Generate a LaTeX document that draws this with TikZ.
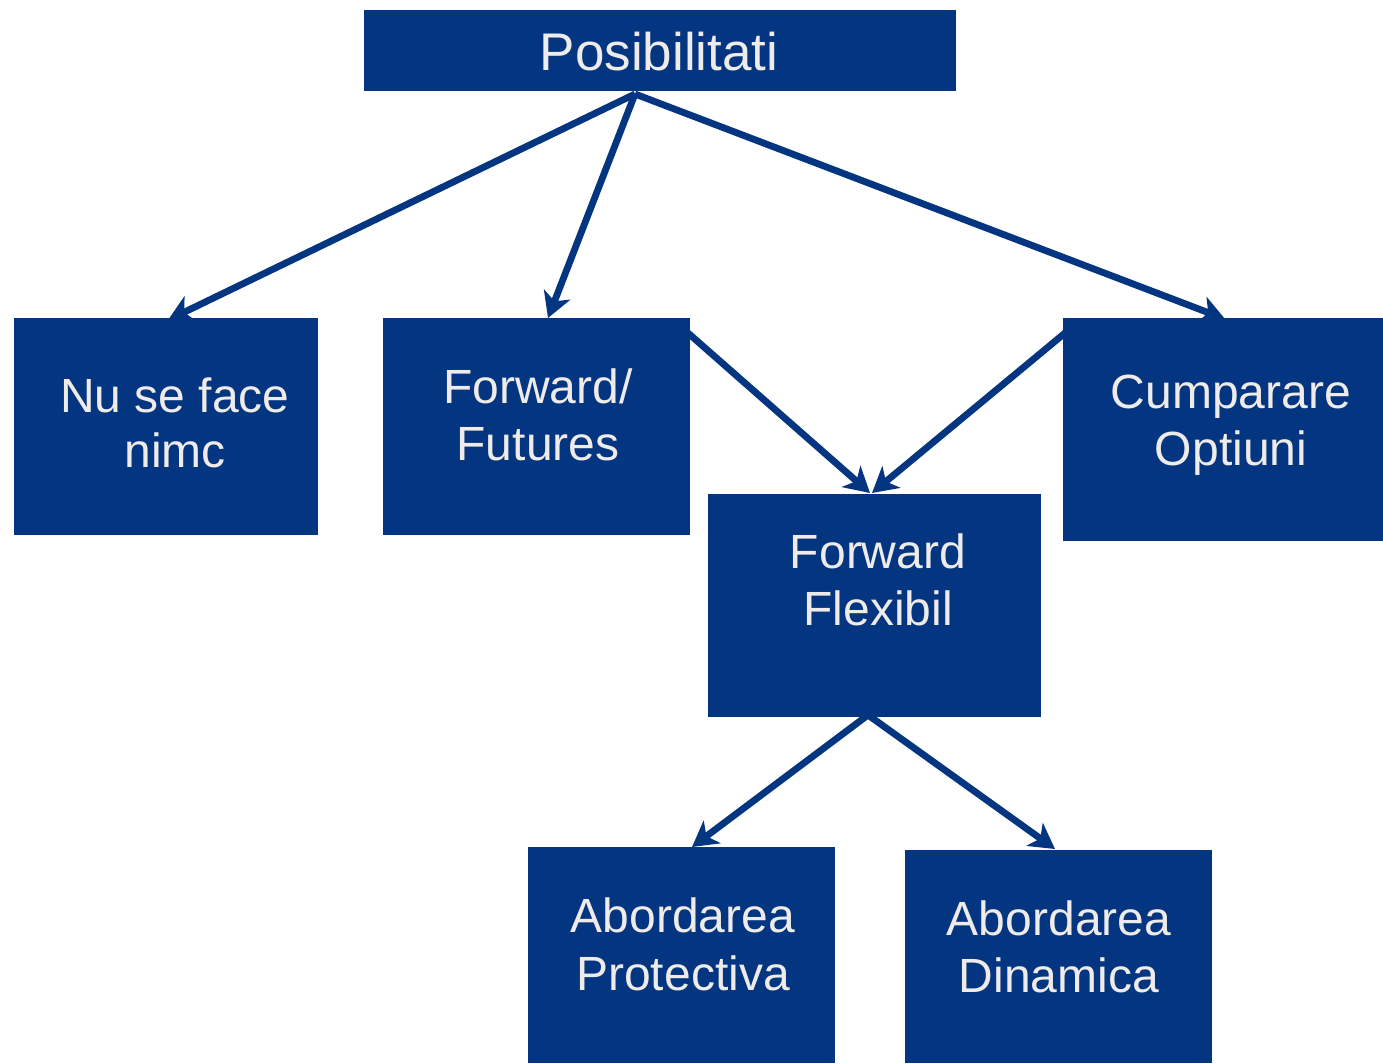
\documentclass[tikz,border=0pt]{standalone}
\usepackage{fontspec}
\setmainfont{Liberation Sans}
\usetikzlibrary{arrows.meta,backgrounds}
\definecolor{boxblue}{RGB}{3,53,128}
\definecolor{txtgray}{RGB}{238,235,232}
\begin{document}
\begin{tikzpicture}[x=1pt,y=-1pt,
  box/.style={fill=boxblue, draw=none, inner sep=0pt, outer sep=0pt},
  lbl/.style={text=txtgray, font=\fontsize{48}{55}\selectfont, anchor=base, inner sep=0pt},
  ttl/.style={text=txtgray, font=\fontsize{53}{60}\selectfont, anchor=base, inner sep=0pt},
  arr/.style={draw=boxblue, line width=6.8pt, -{Stealth[length=25pt,width=28pt,inset=7pt]}}]
\useasboundingbox (0,0) rectangle (1383,1063);
% boxes
\node[box, minimum width=592pt, minimum height=81pt] (p) at (660,50.5) {};
\node[box, minimum width=304pt, minimum height=217pt] (nu) at (166,426.5) {};
\node[box, minimum width=307pt, minimum height=217pt] (ff) at (536.5,426.5) {};
\node[box, minimum width=320pt, minimum height=223pt] (co) at (1223,429.5) {};
\node[box, minimum width=333pt, minimum height=223pt] (fx) at (874.5,605.5) {};
\node[box, minimum width=307pt, minimum height=216pt] (ap) at (681.5,955) {};
\node[box, minimum width=307pt, minimum height=213pt] (ad) at (1058.5,956.5) {};
% labels
\node[ttl] (tp) at (659,70) {Posibilitati};
\node[lbl] (tnu1) at (175,412) {Nu se face};
\node[lbl] (tnu2) at (175,467) {nimc};
\node[lbl] (tff1) at (538,403) {Forward/};
\node[lbl] (tff2) at (538,460) {Futures};
\node[lbl] (tco1) at (1231,408) {Cumparare};
\node[lbl] (tco2) at (1231,465) {Optiuni};
\node[lbl] (tfx1) at (878,568) {Forward};
\node[lbl] (tfx2) at (878,625) {Flexibil};
\node[lbl] (tap1) at (683,932) {Abordarea};
\node[lbl] (tap2) at (683,990) {Protectiva};
\node[lbl] (tad1) at (1059,935) {Abordarea};
\node[lbl] (tad2) at (1059,992) {Dinamica};
% connectors
\begin{pgfonlayer}{background}
\draw[arr] ([xshift=-25pt,yshift=-3pt]p.south) -- ([xshift=2pt,yshift=-2pt]nu.north);
\draw[arr] ([xshift=-25pt,yshift=-3pt]p.south) -- ([xshift=11.5pt]ff.north);
\draw[arr] ([xshift=-25pt,yshift=-3pt]p.south) -- ([xshift=2pt,yshift=-1pt]co.north);
\draw[arr] ([xshift=-2pt,yshift=-15pt]ff.north east) -- ([xshift=-4.5pt,yshift=1pt]fx.north);
\draw[arr] ([xshift=2pt,yshift=-15pt]co.north west) -- ([xshift=-2.5pt,yshift=1pt]fx.north);
\draw[arr] ([xshift=-6.5pt,yshift=2pt]fx.south) -- ([xshift=10.5pt]ap.north);
\draw[arr] ([xshift=-6.5pt,yshift=2pt]fx.south) -- ([xshift=-3.5pt,yshift=1pt]ad.north);
\end{pgfonlayer}
\end{tikzpicture}
\end{document}
